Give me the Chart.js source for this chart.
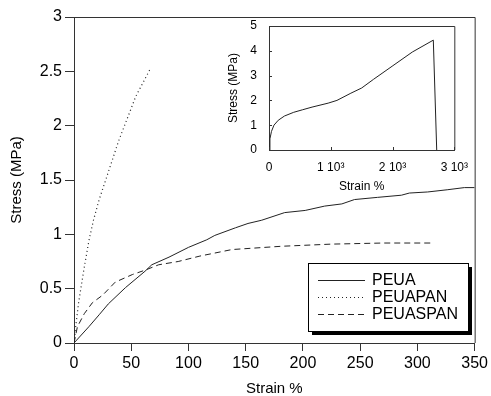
<!DOCTYPE html>
<html>
<head>
<meta charset="utf-8">
<script src="https://cdn.jsdelivr.net/npm/chart.js@4/dist/chart.umd.min.js"></script>
<style>
html, body { margin: 0; padding: 0; background: #fff; }
#wrap { position: relative; width: 491px; height: 396px; }
#main { position: absolute; left: 0; top: 0; }
#inset { position: absolute; left: 226px; top: 14px; }
</style>
</head>
<body>
<div id="wrap">
  <canvas id="main" width="491" height="396"></canvas>
  <canvas id="inset" width="244" height="180"></canvas>
</div>
<script>
// main plot: stress-strain up to 350 %
const peuaStrain = [0, 13, 22, 30, 45, 62, 68, 83, 100, 116, 123, 141, 152, 164, 184, 202, 219, 234, 245, 265, 286, 293, 309, 326, 341, 350];
const peuaStress = [0, 0.15, 0.26, 0.36, 0.51, 0.66, 0.72, 0.79, 0.88, 0.95, 0.99, 1.06, 1.10, 1.13, 1.20, 1.22, 1.26, 1.28, 1.32, 1.34, 1.36, 1.38, 1.39, 1.41, 1.43, 1.43];

const peuapanStrain = [0, 1.5, 4, 8.7, 13, 17, 22, 28, 39, 54, 66.5];
const peuapanStress = [0, 0.15, 0.37, 0.68, 0.94, 1.13, 1.32, 1.51, 1.86, 2.27, 2.52];

const peuaspanStrain = [0, 3, 9, 16, 25, 36, 51, 62, 74, 91, 110, 138, 181, 225, 270, 313];
const peuaspanStress = [0, 0.15, 0.27, 0.37, 0.44, 0.56, 0.63, 0.67, 0.72, 0.75, 0.80, 0.86, 0.89, 0.91, 0.92, 0.92];

const seriesNames = ['PEUA', 'PEUAPAN', 'PEUASPAN'];

// inset: full PEUA curve up to break
const insetStrain = [0, 15, 40, 80, 150, 250, 400, 540, 697, 958, 1100, 1325, 1500, 1692, 2006, 2320, 2660, 2715];
const insetStress = [0, 0.45, 0.75, 1.0, 1.2, 1.37, 1.52, 1.62, 1.73, 1.89, 2.0, 2.29, 2.5, 2.85, 3.4, 3.95, 4.43, 0];

const ink = '#222';
const axisCol = '#333';
const family = '"Liberation Sans", Arial, sans-serif';

function pts(xs, ys) {
    return xs.map((x, i) => ({ x: x, y: ys[i] }));
}

// frame on top and right of the plot area
const framePlugin = {
    id: 'frame',
    afterDraw(chart) {
        const a = chart.chartArea;
        const ctx = chart.ctx;
        ctx.save();
        ctx.strokeStyle = axisCol;
        ctx.lineWidth = 1;
        ctx.beginPath();
        ctx.moveTo(a.left, a.top + 0.5);
        ctx.lineTo(a.right + 0.5, a.top + 0.5);
        ctx.lineTo(a.right + 0.5, a.bottom);
        ctx.stroke();
        ctx.restore();
    }
};

// boxed legend with a drop shadow, bottom right of main plot
const legendBox = {
    id: 'legendBox',
    afterDraw(chart) {
        const ctx = chart.ctx;
        const x = 308, y = 263, w = 160, h = 68;
        ctx.save();
        ctx.fillStyle = '#000';
        ctx.fillRect(x + 4, y + 4, w, h);
        ctx.fillStyle = '#fff';
        ctx.fillRect(x, y, w, h);
        ctx.strokeStyle = '#000';
        ctx.lineWidth = 1;
        ctx.strokeRect(x + 0.5, y + 0.5, w, h);
        ctx.font = '16px ' + family;
        ctx.textBaseline = 'middle';
        chart.data.datasets.forEach((ds, i) => {
            const ly = y + 17 + i * 17;
            ctx.strokeStyle = ink;
            ctx.setLineDash(ds.borderDash || []);
            ctx.beginPath();
            ctx.moveTo(x + 10, ly + 0.5);
            ctx.lineTo(x + 57, ly + 0.5);
            ctx.stroke();
            ctx.setLineDash([]);
            ctx.fillStyle = '#000';
            ctx.fillText(ds.label, x + 64, ly + 1);
        });
        ctx.restore();
    }
};

new Chart(document.getElementById('main'), {
    type: 'line',
    data: {
        datasets: [
            { label: seriesNames[0], data: pts(peuaStrain, peuaStress), borderColor: ink, borderWidth: 1, pointRadius: 0, tension: 0 },
            { label: seriesNames[1], data: pts(peuapanStrain, peuapanStress), borderColor: ink, borderWidth: 1.2, borderDash: [1, 3], pointRadius: 0, tension: 0 },
            { label: seriesNames[2], data: pts(peuaspanStrain, peuaspanStress), borderColor: ink, borderWidth: 1, borderDash: [6, 4], pointRadius: 0, tension: 0 }
        ]
    },
    options: {
        responsive: false,
        animation: false,
        layout: { padding: { top: 17, right: 14, left: 0, bottom: 0 } },
        plugins: { legend: { display: false }, tooltip: { enabled: false } },
        scales: {
            x: {
                type: 'linear', min: 0, max: 350,
                ticks: { stepSize: 50, color: '#000', font: { size: 16, family: family }, padding: 3, maxRotation: 0 },
                grid: { display: true, drawOnChartArea: false, drawTicks: true, tickLength: 8, color: axisCol },
                border: { color: axisCol },
                title: { display: true, text: 'Strain %', color: '#000', font: { size: 15, family: family }, padding: { top: 2, bottom: -2 } },
                afterFit: s => { s.height = 53; }
            },
            y: {
                min: 0, max: 3,
                ticks: { stepSize: 0.5, color: '#000', font: { size: 16, family: family }, padding: 3, callback: v => String(v) },
                grid: { display: true, drawOnChartArea: false, drawTicks: true, tickLength: 9, color: axisCol },
                border: { color: axisCol },
                title: { display: true, text: 'Stress (MPa)', color: '#000', font: { size: 15, family: family }, padding: { top: 8, bottom: 4 } },
                afterFit: s => { s.width = 74; }
            }
        }
    },
    plugins: [framePlugin, legendBox]
});

// inward ticks for the inset
const inwardTicks = {
    id: 'inwardTicks',
    afterDraw(chart) {
        const ctx = chart.ctx;
        const a = chart.chartArea;
        const xs = chart.scales.x, ys = chart.scales.y;
        ctx.save();
        ctx.strokeStyle = axisCol;
        ctx.lineWidth = 1;
        ctx.beginPath();
        xs.ticks.forEach(t => {
            const px = Math.round(xs.getPixelForValue(t.value)) + 0.5;
            ctx.moveTo(px, a.bottom);
            ctx.lineTo(px, a.bottom - 3);
        });
        ys.ticks.forEach(t => {
            const py = Math.round(ys.getPixelForValue(t.value)) + 0.5;
            ctx.moveTo(a.left, py);
            ctx.lineTo(a.left + 3, py);
        });
        ctx.stroke();
        ctx.restore();
    }
};

new Chart(document.getElementById('inset'), {
    type: 'line',
    data: {
        datasets: [
            { label: seriesNames[0], data: pts(insetStrain, insetStress), borderColor: ink, borderWidth: 1, pointRadius: 0, tension: 0 }
        ]
    },
    options: {
        responsive: false,
        animation: false,
        layout: { padding: { top: 12, right: 10, left: 0, bottom: 0 } },
        plugins: { legend: { display: false }, tooltip: { enabled: false } },
        scales: {
            x: {
                type: 'linear', min: 0, max: 3000,
                ticks: {
                    stepSize: 1000, color: '#000', font: { size: 12, family: family }, padding: 2, maxRotation: 0,
                    callback: v => v === 0 ? '0' : (v / 1000) + ' 10³'
                },
                grid: { display: false },
                border: { color: axisCol },
                title: { display: true, text: 'Strain %', color: '#000', font: { size: 12, family: family }, padding: { top: 2, bottom: 0 } },
                afterFit: s => { s.height = 44; }
            },
            y: {
                min: 0, max: 5,
                ticks: { stepSize: 1, color: '#000', font: { size: 12, family: family }, padding: 4 },
                grid: { display: false },
                border: { color: axisCol },
                title: { display: true, text: 'Stress (MPa)', color: '#000', font: { size: 12, family: family }, padding: { top: 0, bottom: 2 } },
                afterFit: s => { s.width = 43; }
            }
        }
    },
    plugins: [framePlugin, inwardTicks]
});
</script>
</body>
</html>
